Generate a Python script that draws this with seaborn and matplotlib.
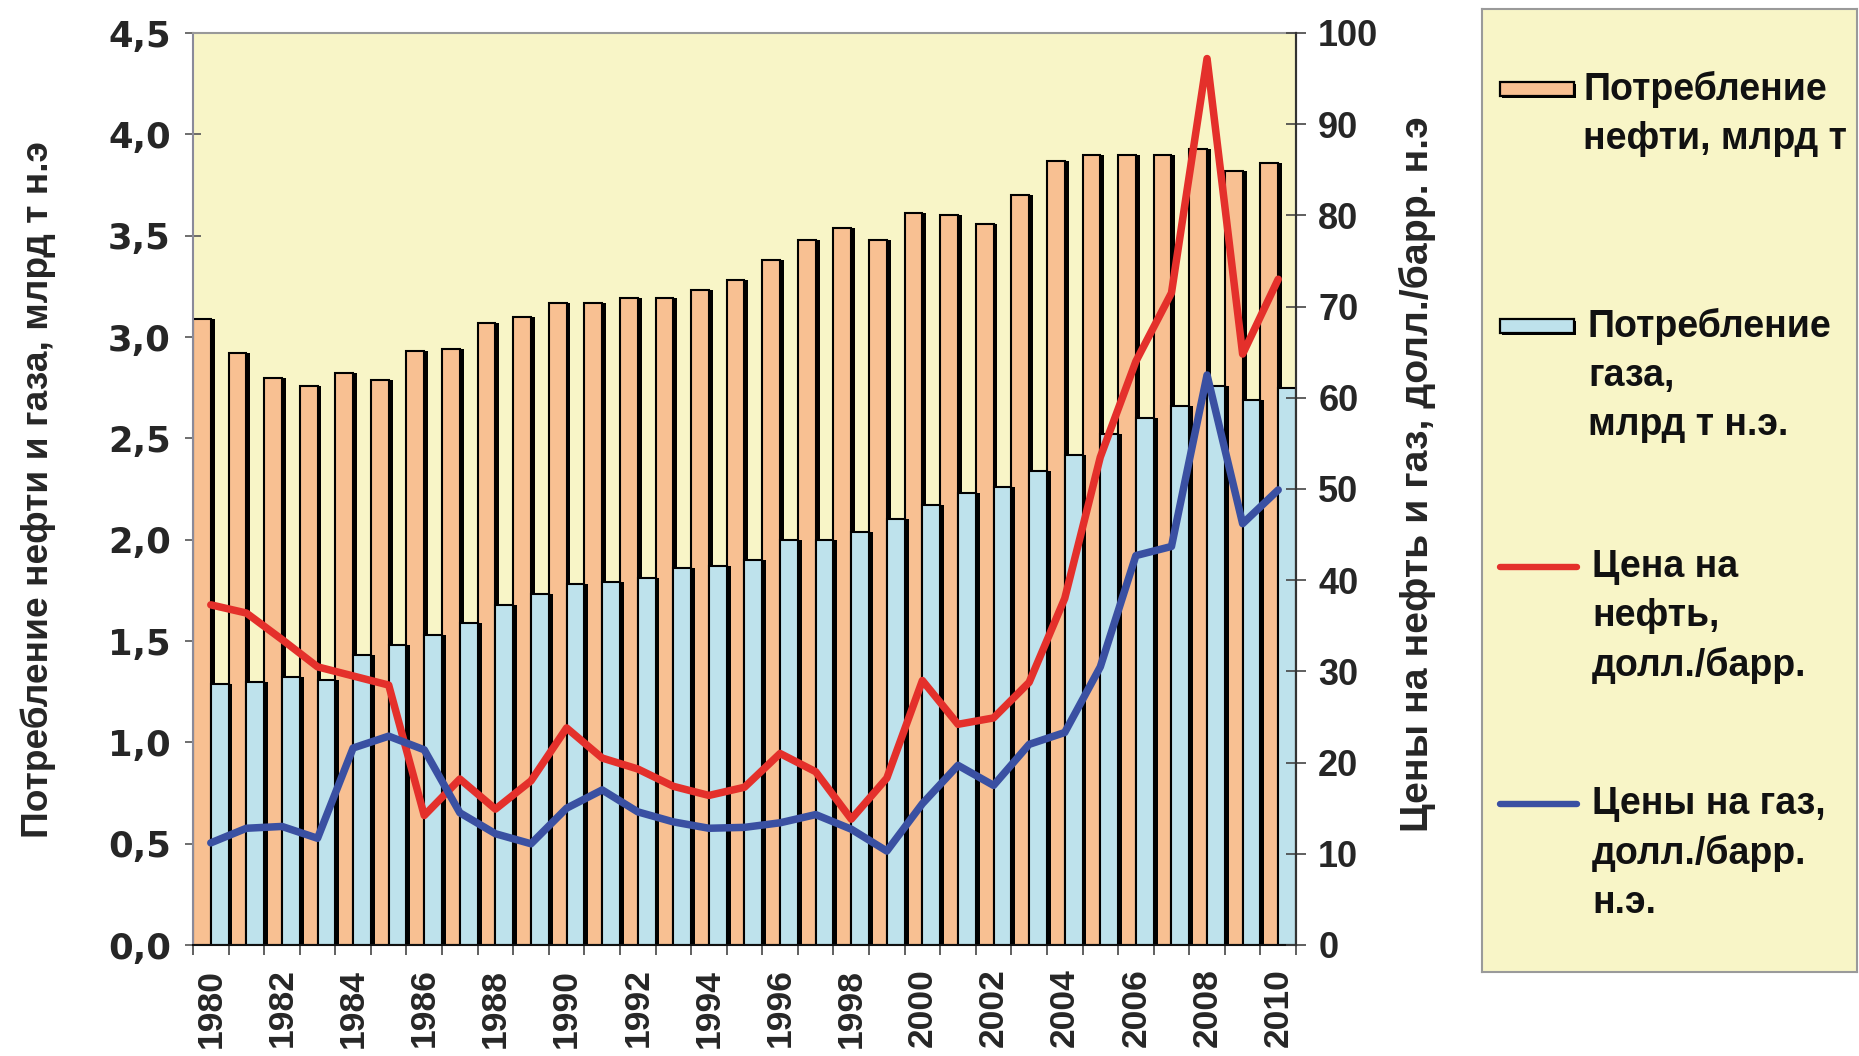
import numpy as np
import pandas as pd
import matplotlib
matplotlib.use("Agg")
import matplotlib.pyplot as plt
import seaborn as sns
from matplotlib import patheffects as pe
from matplotlib.patches import Rectangle
from matplotlib.lines import Line2D
from matplotlib.ticker import FixedLocator, FuncFormatter
from matplotlib import font_manager as fm

# ---------------- data ----------------
years = list(range(1980, 2011))
oil_consumption = [3.09, 2.92, 2.80, 2.76, 2.82, 2.79, 2.93, 2.94, 3.07, 3.10,
                   3.17, 3.17, 3.19, 3.19, 3.23, 3.28, 3.38, 3.48, 3.54, 3.48,
                   3.61, 3.60, 3.56, 3.70, 3.87, 3.90, 3.90, 3.90, 3.93, 3.82, 3.86]
gas_consumption = [1.29, 1.30, 1.32, 1.31, 1.43, 1.48, 1.53, 1.59, 1.68, 1.73,
                   1.78, 1.79, 1.81, 1.86, 1.87, 1.90, 2.00, 2.00, 2.04, 2.10,
                   2.17, 2.23, 2.26, 2.34, 2.42, 2.52, 2.60, 2.66, 2.76, 2.69, 2.75]
oil_price = [37.3, 36.4, 33.5, 30.5, 29.5, 28.5, 14.2, 18.2, 14.9, 18.0,
             23.8, 20.5, 19.3, 17.4, 16.4, 17.3, 21.0, 19.0, 13.8, 18.3,
             29.0, 24.2, 24.9, 28.8, 38.0, 53.5, 64.0, 71.5, 97.2, 64.8, 73.0]
gas_price = [11.2, 12.8, 13.0, 11.7, 21.6, 22.9, 21.4, 14.5, 12.2, 11.1,
             15.0, 17.0, 14.6, 13.5, 12.8, 12.9, 13.4, 14.3, 12.7, 10.3,
             15.5, 19.7, 17.5, 22.0, 23.3, 30.5, 42.7, 43.7, 62.5, 46.2, 49.9]

left_ticks = [0.0, 0.5, 1.0, 1.5, 2.0, 2.5, 3.0, 3.5, 4.0, 4.5]
right_ticks = [0, 10, 20, 30, 40, 50, 60, 70, 80, 90, 100]

label_oil = "Потребление\nнефти, млрд т"
label_gas = "Потребление\nгаза,\nмлрд т н.э."
label_oil_price = "Цена на\nнефть,\nдолл./барр."
label_gas_price = "Цены на газ,\nдолл./барр.\nн.э."
ylabel_left = "Потребление нефти и газа, млрд т н.э"
ylabel_right = "Цены на нефть и газ, долл./барр. н.э"

# ---------------- style ----------------
sns.set_style("ticks")
plt.rcParams["font.family"] = ["DejaVu Sans"]

BG = "#F8F5C7"
ORANGE = "#F8C092"
LIGHTBLUE = "#BEE2EC"
RED = "#E4302B"
NAVY = "#3A50A2"

names = {f.name for f in fm.fontManager.ttflist}
narrow = "Liberation Sans Narrow" if "Liberation Sans Narrow" in names else "Liberation Sans"

W, H = 1859, 1056
fig = plt.figure(figsize=(W / 100, H / 100), dpi=100)
fig.patch.set_facecolor("white")

def fx(px):
    return px / W

def fy(py):
    return 1 - py / H

x0, x1, ytop, ybot = 193, 1296, 33, 945
ax = fig.add_axes([fx(x0), fy(ybot), fx(x1 - x0), (ybot - ytop) / H])
ax.set_facecolor(BG)

df = pd.DataFrame({
    "year": years * 2,
    "kind": ["oil"] * len(years) + ["gas"] * len(years),
    "value": oil_consumption + gas_consumption,
})
sns.barplot(data=df, x="year", y="value", hue="kind", hue_order=["oil", "gas"],
            palette=[ORANGE, LIGHTBLUE], width=1.0, gap=0, edgecolor="black",
            linewidth=1.5, saturation=1, errorbar=None, legend=False, ax=ax)
shadow = [pe.SimplePatchShadow(offset=(2.8, 0), shadow_rgbFace="black", alpha=1.0), pe.Normal()]
for p in ax.patches:
    p.set_path_effects(shadow)

n = len(years)
ax.set_xlim(-0.5, n - 0.5)
ax.set_ylim(0, 4.5)
ax.set_yticks(left_ticks)
ax.yaxis.set_major_formatter(FuncFormatter(lambda v, _: f"{v:.1f}".replace(".", ",")))
ax.tick_params(axis="y", direction="inout", length=12, width=1.2, color="#555555",
               labelsize=25.5, pad=10)
for t in ax.get_yticklabels():
    t.set_fontweight("bold")

ax.xaxis.set_major_locator(FixedLocator(np.arange(-0.5, n, 1.0)))
ax.xaxis.set_major_formatter(FuncFormatter(lambda v, _: ""))
ax.set_xticks(np.arange(0, n, 2), [str(y) for y in years[::2]], minor=True)
ax.tick_params(axis="x", which="major", direction="out", length=7, width=1.2, color="#444444")
ax.tick_params(axis="x", which="minor", length=0, pad=17)
for t in ax.get_xticklabels(minor=True):
    t.set_rotation(90)
    t.set_fontsize(25.5)
    t.set_fontfamily([narrow, "DejaVu Sans"])
    t.set_fontweight("bold")
    t.set_va("top")
    t.set_ha("center")
ax.set_xlabel("")
ax.set_ylabel(ylabel_left, fontsize=26.7, fontweight="bold", family=[narrow, "DejaVu Sans"])
ax.yaxis.set_label_coords(-0.124, 0.5)

for side, col, lw in [("left", "#8a8a9a", 1.5), ("top", "#999999", 1.5),
                      ("bottom", "#111111", 1.5), ("right", "#333333", 1.5)]:
    ax.spines[side].set_color(col)
    ax.spines[side].set_linewidth(lw)

ax2 = ax.twinx()
xpos = np.arange(n)
sns.lineplot(x=xpos, y=oil_price, color=RED, linewidth=5.4, ax=ax2,
             solid_joinstyle="round", solid_capstyle="round")
sns.lineplot(x=xpos, y=gas_price, color=NAVY, linewidth=5.4, ax=ax2,
             solid_joinstyle="round", solid_capstyle="round")
ax2.set_ylim(0, 100)
ax2.set_yticks(right_ticks)
ax2.tick_params(axis="y", direction="inout", length=14, width=1.2, color="#444444",
                labelsize=26, pad=9)
for t in ax2.get_yticklabels():
    t.set_fontfamily(["Liberation Sans", "DejaVu Sans"])
    t.set_fontweight("bold")
ax2.set_ylabel(ylabel_right, fontsize=28.3, fontweight="bold", family=[narrow, "DejaVu Sans"])
ax2.yaxis.set_label_coords(1.0934, 0.516)
for s in ax2.spines.values():
    s.set_visible(False)
ax2.spines["right"].set_visible(True)
ax2.spines["right"].set_color("#333333")
ax2.spines["right"].set_linewidth(1.5)
ax2.set_xlim(-0.5, n - 0.5)

# ---------------- legend box ----------------
lx0, lx1, ly0, ly1 = 1482, 1857, 9, 972
lax = fig.add_axes([fx(lx0), fy(ly1), fx(lx1 - lx0), (ly1 - ly0) / H])
lax.set_facecolor(BG)
lax.set_xlim(0, lx1 - lx0)
lax.set_ylim(ly1 - ly0, 0)
lax.set_xticks([])
lax.set_yticks([])
for s in lax.spines.values():
    s.set_color("#9a9a9a")
    s.set_linewidth(1.5)

items = [
    ("patch", ORANGE, 80, label_oil, 101),
    ("patch", LIGHTBLUE, 317, label_gas, 106),
    ("line", RED, 558, label_oil_price, 110),
    ("line", NAVY, 795, label_gas_price, 110),
]
for kind, col, yc, lab, tx in items:
    if kind == "patch":
        r = Rectangle((18, yc - 7), 74, 14, facecolor=col, edgecolor="black", linewidth=1.6)
        r.set_path_effects([pe.SimplePatchShadow(offset=(1.5, -1.5), shadow_rgbFace="black", alpha=1.0), pe.Normal()])
        lax.add_patch(r)
    else:
        lax.add_line(Line2D([18, 95], [yc, yc], color=col, linewidth=4.6, solid_capstyle="round"))
    lax.text(tx, yc - 18, lab, fontsize=27, fontweight="bold", va="top", ha="left",
             linespacing=1.46, color="#111111", family=["Liberation Sans", "DejaVu Sans"])

fig.savefig("out.png", dpi=100, facecolor="white")
